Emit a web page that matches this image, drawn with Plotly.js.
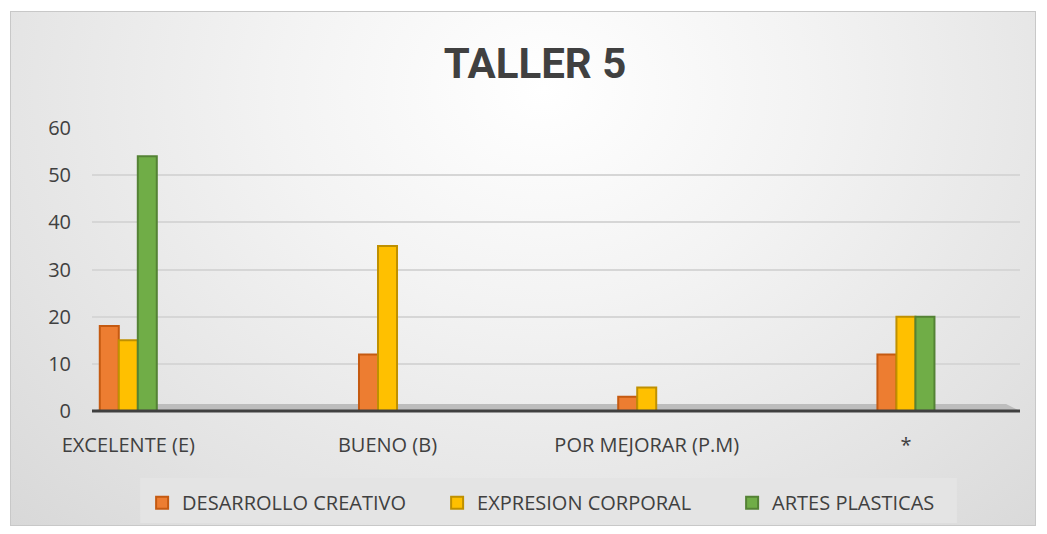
<!DOCTYPE html>
<html>
<head>
<meta charset="utf-8">
<script src="https://cdn.plot.ly/plotly-3.0.1.min.js"></script>
<style>
  html, body { margin: 0; padding: 0; background: #ffffff; }
  #wrap { position: relative; width: 1047px; height: 534px; }
  #bg { position: absolute; left: 10px; top: 11px; width: 1024px; height: 513px;
        border: 1px solid #c8c8c8;
        background: radial-gradient(ellipse at 52% 15%, #ffffff 0%, #f3f3f3 35%, #e3e3e3 75%, #d8d8d8 100%); }
  #chart { position: absolute; left: 0; top: 0; width: 1047px; height: 534px; }
</style>
</head>
<body>
<div id="wrap">
  <div id="bg"></div>
  <div id="chart"></div>
</div>
<script>
const categories = ["EXCELENTE (E)", "BUENO (B)", "POR MEJORAR (P.M)", "*"];
const seriesNames = ["DESARROLLO CREATIVO", "EXPRESION CORPORAL", "ARTES PLASTICAS"];
const desarrolloCreativo = [18, 12, 3, 12];
const expresionCorporal = [15, 35, 5, 20];
const artesPlasticas = [54, 0, 0, 20];
const yTicks = [0, 10, 20, 30, 40, 50, 60];

const fills = ["#ED7D31", "#FFC000", "#70AD47"];
const edges = ["#C55A11", "#BF9000", "#548235"];
const values = [desarrolloCreativo, expresionCorporal, artesPlasticas];

const traces = seriesNames.map((name, i) => ({
  type: "bar",
  name: name,
  x: categories,
  y: values[i],
  marker: { color: fills[i], line: { color: edges[i], width: 2 } },
  hoverinfo: "skip"
}));

const font = "Open Sans, Noto Sans, sans-serif";
const textColor = "#404040";

const layout = {
  width: 1047,
  height: 534,
  paper_bgcolor: "rgba(0,0,0,0)",
  plot_bgcolor: "rgba(0,0,0,0)",
  margin: { l: 92, r: 27, t: 128, b: 123 },
  showlegend: true,
  barmode: "group",
  bargap: 0.78,
  bargroupgap: 0,
  title: {
    text: "<b>TALLER 5</b>",
    x: 0.511, xanchor: "center",
    y: 0.882, yanchor: "middle",
    font: { family: "Roboto, Open Sans, sans-serif", size: 42, color: textColor }
  },
  xaxis: {
    type: "category",
    range: [-0.14, 3.44],
    showgrid: false,
    showline: false,
    zeroline: false,
    ticks: "",
    ticklabelstandoff: 20,
    tickfont: { family: font, size: 20, color: textColor }
  },
  yaxis: {
    range: [0, 60],
    tickvals: yTicks,
    ticktext: yTicks.map(String),
    showgrid: true,
    gridcolor: "#d6d6d6",
    gridwidth: 2,
    zeroline: false,
    showline: false,
    ticks: "",
    ticklabelstandoff: 20,
    tickfont: { family: font, size: 20, color: textColor }
  },
  legend: {
    orientation: "h",
    x: 0.054, xanchor: "left",
    y: -0.255, yanchor: "top",
    bgcolor: "rgba(0,0,0,0)",
    font: { family: font, size: 20, color: textColor },
    itemwidth: 30,
    entrywidth: 250,
    itemclick: false
  },
  shapes: [
    { type: "rect", xref: "paper", yref: "paper", x0: 0.052, x1: 0.932, y0: -0.396, y1: -0.237,
      fillcolor: "#e4e4e4", line: { width: 0 }, layer: "below" },
    { type: "path", xref: "paper", yref: "paper",
      path: "M 0.0,0 L 0.03,0.025 L 0.985,0.025 L 1.0,0 Z",
      fillcolor: "#bdbdbd", line: { width: 0 }, layer: "below" },
    { type: "line", xref: "paper", yref: "paper", x0: 0, x1: 1, y0: 0, y1: 0,
      line: { color: "#404040", width: 3 } }
  ]
};

Plotly.newPlot("chart", traces, layout, { displayModeBar: false, staticPlot: true });
</script>
</body>
</html>
